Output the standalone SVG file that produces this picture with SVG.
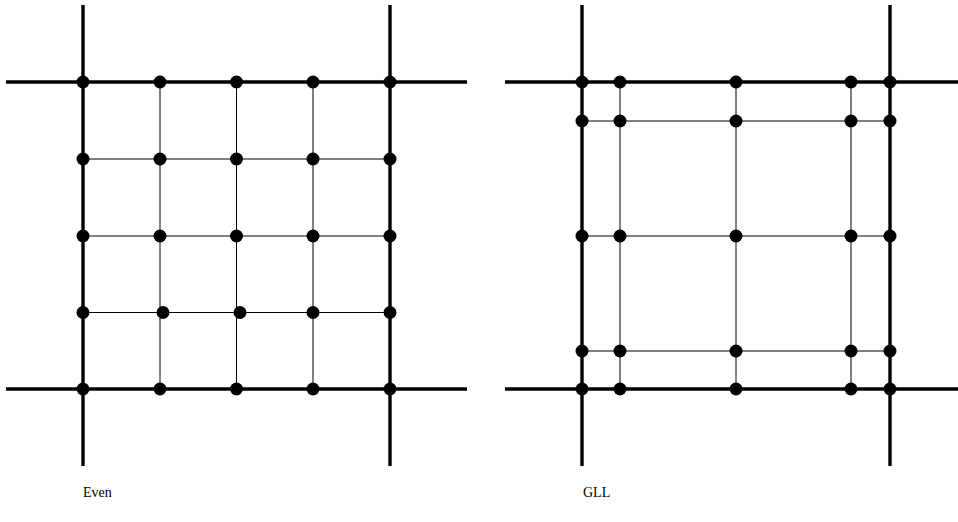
<svg xmlns="http://www.w3.org/2000/svg" width="958" height="522" viewBox="0 0 958 522">
  <defs>
    <style>
      .thick { stroke: #000; stroke-width: 3.4; fill: none; }
      .thin { stroke: #000; stroke-width: 1; fill: none; }
      .pt { fill: #000; }
      .lbl { font-family: "Liberation Serif", "Times New Roman", serif; font-size: 14px; fill: #000; }
    </style>
  </defs>

  <!-- Even spacing element -->
  <g id="even-grid">
    <g id="even-thin" class="thin">
      <line x1="83" y1="159" x2="390" y2="159"/>
      <line x1="83" y1="236" x2="390" y2="236"/>
      <line x1="83" y1="312.5" x2="390" y2="312.5"/>
      <line x1="160" y1="82" x2="160" y2="389"/>
      <line x1="236.5" y1="82" x2="236.5" y2="389"/>
      <line x1="313" y1="82" x2="313" y2="389"/>
    </g>
    <g id="even-thick" class="thick">
      <line x1="6" y1="82" x2="467" y2="82"/>
      <line x1="6" y1="389" x2="467" y2="389"/>
      <line x1="83" y1="5" x2="83" y2="466"/>
      <line x1="390" y1="5" x2="390" y2="466"/>
    </g>
    <g id="even-points" class="pt">
      <circle cx="83" cy="82" r="6.5"/><circle cx="160" cy="82" r="6.5"/><circle cx="236.5" cy="82" r="6.5"/><circle cx="313" cy="82" r="6.5"/><circle cx="390" cy="82" r="6.5"/>
      <circle cx="83" cy="159" r="6.5"/><circle cx="160" cy="159" r="6.5"/><circle cx="236.5" cy="159" r="6.5"/><circle cx="313" cy="159" r="6.5"/><circle cx="390" cy="159" r="6.5"/>
      <circle cx="83" cy="236" r="6.5"/><circle cx="160" cy="236" r="6.5"/><circle cx="236.5" cy="236" r="6.5"/><circle cx="313" cy="236" r="6.5"/><circle cx="390" cy="236" r="6.5"/>
      <circle cx="83" cy="312.5" r="6.5"/><circle cx="163" cy="312.5" r="6.5"/><circle cx="240" cy="312.5" r="6.5"/><circle cx="313" cy="312.5" r="6.5"/><circle cx="390" cy="312.5" r="6.5"/>
      <circle cx="83" cy="389" r="6.5"/><circle cx="160" cy="389" r="6.5"/><circle cx="236.5" cy="389" r="6.5"/><circle cx="313" cy="389" r="6.5"/><circle cx="390" cy="389" r="6.5"/>
    </g>
    <text class="lbl" x="83" y="497">Even</text>
  </g>

  <!-- Gauss-Lobatto-Legendre element -->
  <g id="gll-grid">
    <g id="gll-thin" class="thin">
      <line x1="582" y1="121" x2="890" y2="121"/>
      <line x1="582" y1="236" x2="890" y2="236"/>
      <line x1="582" y1="351" x2="890" y2="351"/>
      <line x1="620" y1="82" x2="620" y2="389"/>
      <line x1="736" y1="82" x2="736" y2="389"/>
      <line x1="851" y1="82" x2="851" y2="389"/>
    </g>
    <g id="gll-thick" class="thick">
      <line x1="505" y1="82" x2="958" y2="82"/>
      <line x1="505" y1="389" x2="958" y2="389"/>
      <line x1="582" y1="5" x2="582" y2="466"/>
      <line x1="890" y1="5" x2="890" y2="466"/>
    </g>
    <g id="gll-points" class="pt">
      <circle cx="582" cy="82" r="6.5"/><circle cx="620" cy="82" r="6.5"/><circle cx="736" cy="82" r="6.5"/><circle cx="851" cy="82" r="6.5"/><circle cx="890" cy="82" r="6.5"/>
      <circle cx="582" cy="121" r="6.5"/><circle cx="620" cy="121" r="6.5"/><circle cx="736" cy="121" r="6.5"/><circle cx="851" cy="121" r="6.5"/><circle cx="890" cy="121" r="6.5"/>
      <circle cx="582" cy="236" r="6.5"/><circle cx="620" cy="236" r="6.5"/><circle cx="736" cy="236" r="6.5"/><circle cx="851" cy="236" r="6.5"/><circle cx="890" cy="236" r="6.5"/>
      <circle cx="582" cy="351" r="6.5"/><circle cx="620" cy="351" r="6.5"/><circle cx="736" cy="351" r="6.5"/><circle cx="851" cy="351" r="6.5"/><circle cx="890" cy="351" r="6.5"/>
      <circle cx="582" cy="389" r="6.5"/><circle cx="620" cy="389" r="6.5"/><circle cx="736" cy="389" r="6.5"/><circle cx="851" cy="389" r="6.5"/><circle cx="890" cy="389" r="6.5"/>
    </g>
    <text class="lbl" x="583" y="497">GLL</text>
  </g>
</svg>
